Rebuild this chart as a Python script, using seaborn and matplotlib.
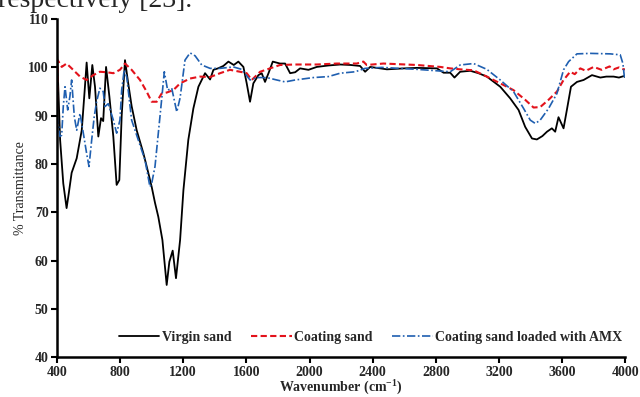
import numpy as np
import pandas as pd
import matplotlib
matplotlib.use("Agg")
import matplotlib.pyplot as plt
import seaborn as sns

# ---------------- data ----------------
wn_virgin = [400, 405, 420, 440, 461, 475, 493, 525, 557, 575, 588, 605, 624, 641, 662, 679, 693, 711,
             732, 757, 778, 795, 810, 831, 850, 873, 905, 947, 980, 1000, 1021, 1042, 1068, 1095, 1112,
             1133, 1154, 1180, 1201, 1232, 1264, 1296, 1338, 1370, 1391, 1420, 1454, 1486, 1520, 1549,
             1581, 1602, 1623, 1644, 1676, 1697, 1718, 1740, 1767, 1813, 1845, 1877, 1909, 1940, 1993,
             2046, 2120, 2194, 2260, 2320, 2352, 2384, 2490, 2600, 2680, 2807, 2849, 2891, 2918, 2954,
             3018, 3070, 3123, 3208, 3271, 3324, 3366, 3409, 3440, 3475, 3504, 3535, 3556, 3577, 3609,
             3630, 3656, 3694, 3736, 3789, 3842, 3880, 3926, 3960, 3990, 4000]
t_virgin = [104, 99, 85, 76, 70.9, 74, 78.2, 81.2, 87, 95, 101, 93.6, 100.5, 96, 85.7, 89.5, 88.9, 100.1,
            94, 85.7, 75.7, 76.7, 90, 101.5, 97, 92, 87, 82.3, 78, 75.3, 72, 69.1, 64.3, 55, 59.8,
            62.1, 56.4, 64.3, 74.6, 85, 91.5, 96, 98.8, 97.5, 99.5, 99.8, 100.3, 101.2, 100.5, 101.2,
            100.1, 96.7, 92.9, 96.7, 98.4, 98.8, 97, 98.8, 101.2, 100.8, 100.8, 98.8, 99, 99.8, 99.5,
            100.1, 100.4, 100.6, 100.5, 100.3, 99.1, 100.1, 99.6, 99.8, 99.9, 99.8, 98.9, 98.9, 97.9, 99.1,
            99.3, 98.8, 98.1, 96, 93.6, 91.2, 87.7, 85.3, 85.1, 85.8, 86.7, 87.4, 86.7, 89.7, 87.4,
            91.2, 96, 97, 97.4, 98.4, 97.9, 98.1, 98.1, 97.9, 98.2, 98]

wn_coat = [400, 405, 430, 461, 493, 546, 588, 630, 672, 715, 757, 799, 831, 873, 926, 968, 1000, 1032,
           1063, 1095, 1137, 1180, 1243, 1306, 1370, 1433, 1496, 1560, 1602, 1634, 1687, 1750, 1813,
           1909, 2046, 2173, 2299, 2341, 2362, 2468, 2680, 2828, 2891, 2954, 3039, 3123, 3208, 3292,
           3366, 3419, 3461, 3514, 3567, 3609, 3651, 3680, 3715, 3750, 3800, 3850, 3900, 3926, 3960,
           3990, 4000]
t_coat = [89, 101.5, 100.1, 100.8, 99.8, 98.1, 97.4, 98.4, 99.1, 99, 98.8, 99.5, 100.8, 99.5, 97.4, 95,
          92.9, 92.9, 94.6, 94.8, 95.3, 96.7, 97.7, 98.1, 98, 98.8, 99.5, 99.1, 98.8, 97.4, 99.1, 99.8,
          100.5, 100.6, 100.6, 100.8, 100.8, 101.2, 100.5, 100.8, 100.5, 100.1, 99.8, 99.6, 99.4, 98.1,
          96.7, 95.3, 93.3, 91.7, 91.8, 93.3, 95, 97.4, 99.1, 98.6, 99.8, 99.3, 100.1, 99.5, 100.2,
          99.6, 100, 99.6, 99.6]

wn_amx = [400, 408, 419, 430, 440, 451, 468, 482, 493, 510, 525, 546, 567, 588, 603, 620, 636, 651, 672,
          693, 704, 725, 757, 778, 799, 810, 826, 842, 873, 915, 958, 989, 1000, 1021, 1042, 1063, 1080,
          1101, 1127, 1159, 1180, 1211, 1243, 1275, 1317, 1370, 1433, 1517, 1570, 1623, 1666, 1729,
          1792, 1845, 1909, 2025, 2119, 2194, 2289, 2352, 2458, 2680, 2807, 2891, 2954, 3039, 3123,
          3208, 3292, 3356, 3398, 3430, 3461, 3514, 3567, 3609, 3641, 3694, 3779, 3905, 3968, 3985,
          3994, 4000]
t_amx = [90, 88.4, 85.7, 86, 91.9, 96, 91.2, 94, 97.4, 89.8, 87, 90.5, 86.4, 82.2, 79.5, 85, 89.8, 92.9,
         95.7, 95, 91.9, 92.5, 89.1, 86.4, 89.1, 95.3, 99.5, 98, 89.1, 85, 80.8, 75.3, 76, 79.5, 86.4,
         93.3, 99.1, 95.3, 95.7, 90.8, 93.7, 101.5, 103, 102.4, 100.5, 99.8, 99.8, 100.1, 99.6, 97.4,
         97.9, 97.9, 97.4, 97, 97.4, 97.9, 98.1, 98.8, 99.1, 99.8, 100, 99.6, 99.3, 99.1, 100.5, 100.8,
         99.6, 97.4, 95, 91.5, 89.1, 88.4, 89.1, 91.5, 94.6, 99.5, 101.2, 102.8, 102.9, 102.8, 102.6,
         100.8, 98.1, 97.8]

series_names = ["Virgin sand", "Coating sand", "Coating sand loaded with AMX"]
x_ticks = list(range(400, 4001, 400))
y_ticks = list(range(40, 111, 10))

# ---------------- style ----------------
sns.set_style("ticks")
plt.rcParams["font.family"] = ["Liberation Serif", "DejaVu Serif"]
plt.rcParams["mathtext.fontset"] = "custom"
plt.rcParams["mathtext.rm"] = "Liberation Serif"
plt.rcParams["mathtext.bf"] = "Liberation Serif:bold"
plt.rcParams["mathtext.it"] = "Liberation Serif:italic"

fig = plt.figure(figsize=(6.4, 3.97), dpi=100)
ax = fig.add_axes([0.089, 0.0995, 0.888, 0.8525])

styles = [
    dict(color="black", linestyle="-", linewidth=1.3),
    dict(color="#e3121b", linestyle=(0, (3, 1.6)), linewidth=1.5),
    dict(color="#1f5fb0", linestyle=(0, (5, 1.5, 1, 1.5)), linewidth=1.2),
]
data = [(wn_virgin, t_virgin), (wn_coat, t_coat), (wn_amx, t_amx)]
for (wx, ty), name, st in zip(data, series_names, styles):
    df = pd.DataFrame({"wn": wx, "T": ty})
    sns.lineplot(data=df, x="wn", y="T", ax=ax, label=name, sort=False,
                 estimator=None, **st)

ax.set_xlim(400, 4000)
ax.set_ylim(40, 110)
ax.set_xticks(x_ticks)
ax.set_yticks(y_ticks)
ax.set_xticklabels([str(v) for v in x_ticks], fontweight="bold", fontsize=10)
ax.set_yticklabels([str(v) for v in y_ticks], fontweight="bold", fontsize=10)
ax.tick_params(direction="out", length=4, width=1.5, color="black", pad=2)

for s in ["top", "right"]:
    ax.spines[s].set_visible(False)
for s in ["left", "bottom"]:
    ax.spines[s].set_linewidth(1.8)
    ax.spines[s].set_color("black")

ax.set_xlabel(r"Wavenumber (cm$^{\mathbf{-1}}$)", fontweight="bold", fontsize=10, labelpad=0)
ax.set_ylabel("% Transmittance", fontsize=10, labelpad=1)

leg = ax.legend(loc="center right", bbox_to_anchor=(1.017, 0.06), ncol=3, frameon=False,
                handlelength=2.9, handletextpad=0.2, columnspacing=1.4,
                prop={"weight": "bold", "size": 10})

fig.text(-0.003, 1 - 7 / 397, "respectively [23].", fontsize=20, va="baseline", ha="left")

fig.savefig("out.png", dpi=100)
